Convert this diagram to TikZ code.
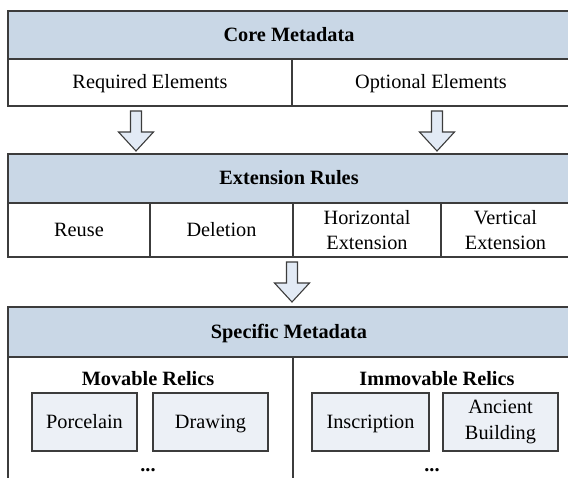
\documentclass[tikz,border=0pt]{standalone}
\usepackage{fontspec}
\setmainfont{Liberation Serif}
\definecolor{hdrc}{HTML}{C9D7E6}
\definecolor{linec}{HTML}{3C3C3C}
\definecolor{itemc}{HTML}{ECF0F6}
\definecolor{arrc}{HTML}{E2EAF5}
\begin{document}
\begin{tikzpicture}[x=1pt,y=1pt,
  font=\fontsize{20.3}{25.5}\selectfont,
  one/.style={text height=15pt, text depth=2.5pt},
  frame/.style={draw=linec, line width=1.2pt, inner sep=0pt, outer sep=0pt, anchor=north west, align=center},
  hdr/.style={frame, one, fill=hdrc, font=\fontsize{20.3}{25.5}\selectfont\bfseries},
  cell/.style={frame, fill=white},
  item/.style={draw=linec, line width=1.1pt, fill=itemc, inner sep=0pt, align=center, minimum height=58pt},
  blockarr/.style={draw=linec, line width=1.1pt, fill=arrc, line join=miter},
  grp/.style={font=\fontsize{20.3}{25.5}\selectfont\bfseries}
]
\useasboundingbox (0,0) rectangle (568,-478);
\clip (0,0) rectangle (568,-478);

% Core metadata
\node[hdr, minimum width=562pt, minimum height=48pt] (core) at (8,-11) {Core Metadata};
\node[cell, one, minimum width=284pt, minimum height=47pt] (req) at (8,-59) {Required Elements};
\node[cell, one, minimum width=278pt, minimum height=47pt] (opt) at (292,-59) {Optional Elements};

% block arrow: shaft 11 wide, head 35 wide, head 19 long
\newcommand{\blockarrow}[3]{% x, ytop, ybottom
  \path[blockarr] (#1-5.5,#2) -- (#1+5.5,#2) -- (#1+5.5,#3+19) -- (#1+17.5,#3+19)
    -- (#1,#3) -- (#1-17.5,#3+19) -- (#1-5.5,#3+19) -- cycle;}

% Extension rules
\node[hdr, minimum width=562pt, minimum height=49pt] (ext) at (8,-154) {Extension Rules};
\node[cell, one, minimum width=142pt, minimum height=54pt] (reuse) at (8,-203) {Reuse};
\node[cell, one, minimum width=143pt, minimum height=54pt] (del) at (150,-203) {Deletion};
\node[cell, minimum width=148pt, minimum height=54pt] (hor) at (293,-203) {Horizontal\\Extension};
\node[cell, minimum width=129pt, minimum height=54pt] (ver) at (441,-203) {Vertical\\Extension};

% arrows
\blockarrow{136}{-111}{-151}
\blockarrow{437}{-111}{-151}
\blockarrow{292}{-262}{-302}

% Specific metadata
\node[hdr, minimum width=562pt, minimum height=50pt] (spec) at (8,-307) {Specific Metadata};
\node[cell, minimum width=285pt, minimum height=150pt] (mov) at (8,-357) {};
\node[cell, minimum width=277pt, minimum height=150pt] (imm) at (293,-357) {};

\node[grp] (movt) at (148,-379) {Movable Relics};
\node[grp] (immt) at (437,-379) {Immovable Relics};

\node[item, one, minimum width=105pt] (porc) at (84.5,-422) {Porcelain};
\node[item, one, minimum width=115pt] (draw) at (210.5,-422) {Drawing};
\node[item, one, minimum width=117pt] (insc) at (370.5,-422) {Inscription};
\node[item, minimum width=115pt] (anc) at (500.5,-422) {Ancient\\Building};

\node[grp] (dots1) at (148,-470) {...};
\node[grp] (dots2) at (432,-470) {...};
\end{tikzpicture}
\end{document}
